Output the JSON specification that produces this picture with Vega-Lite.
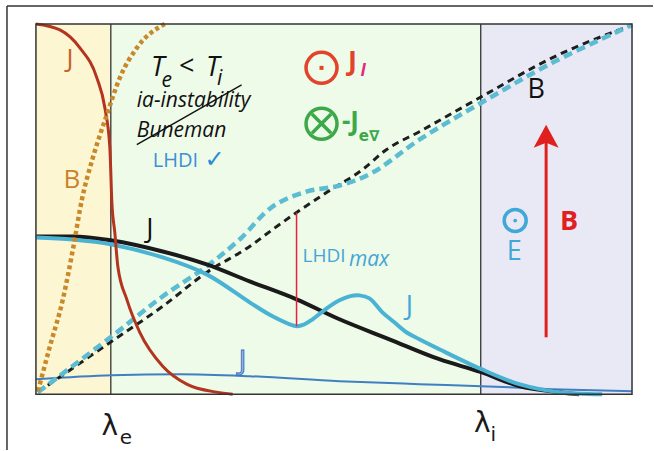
{
  "$schema": "https://vega.github.io/schema/vega-lite/v6.json",
  "width": 654,
  "height": 451,
  "autosize": {"type": "fit", "contains": "padding"},
  "padding": 0,
  "background": "white",
  "config": {"view": {"stroke": null}},
  "encoding": {
    "x": {"field": "x", "type": "quantitative", "scale": {"domain": [-6.03, 103.52], "nice": false, "zero": false}, "axis": null},
    "y": {"field": "y", "type": "quantitative", "scale": {"domain": [-15.09, 106.47], "nice": false, "zero": false}, "axis": null}
  },
  "layer": [
    {
      "data": {"values": [
        {"x": 0, "x2": 12.56, "y": 0, "y2": 100, "r": "electron"},
        {"x": 12.56, "x2": 74.62, "y": 0, "y2": 100, "r": "middle"},
        {"x": 74.62, "x2": 100, "y": 0, "y2": 100, "r": "ion"}
      ]},
      "mark": {"type": "rect", "opacity": 1},
      "encoding": {
        "x2": {"field": "x2"},
        "y2": {"field": "y2"},
        "color": {"field": "r", "type": "nominal", "legend": null, "scale": {"domain": ["electron", "middle", "ion"], "range": ["#fdf6d2", "#eefbe9", "#e9e9f6"]}}
      }
    },
    {
      "data": {"values": [
        {"x": 12.56, "x2": 12.56, "y": 0, "y2": 100},
        {"x": 74.62, "x2": 74.62, "y": 0, "y2": 100}
      ]},
      "mark": {"type": "rule", "color": "#333333", "strokeWidth": 1.3},
      "encoding": {"x2": {"field": "x2"}, "y2": {"field": "y2"}}
    },
    {
      "data": {"values": [
        {"x": 0, "y": 4.04}, {"x": 12.73, "y": 5.12}, {"x": 24.12, "y": 5.39}, {"x": 35.85, "y": 4.85},
        {"x": 50.92, "y": 3.5}, {"x": 64.32, "y": 2.7}, {"x": 74.71, "y": 2.16}, {"x": 86.6, "y": 1.35}, {"x": 100, "y": 0.81}
      ]},
      "mark": {"type": "line", "color": "#3f7fc2", "strokeWidth": 2, "interpolate": "monotone"}
    },
    {
      "data": {"values": [
        {"x": 0.34, "y": 0.54}, {"x": 12.73, "y": 14.29}, {"x": 21.27, "y": 23.72}, {"x": 28.64, "y": 32.88},
        {"x": 35.85, "y": 39.89}, {"x": 39.7, "y": 44.47}, {"x": 43.72, "y": 49.06}, {"x": 48.74, "y": 54.45},
        {"x": 54.77, "y": 60.65}, {"x": 58.79, "y": 66.04}, {"x": 64.32, "y": 70.89}, {"x": 74.71, "y": 80.32},
        {"x": 86.6, "y": 90.84}, {"x": 100, "y": 99.73}
      ]},
      "mark": {"type": "line", "color": "#1e1e1e", "strokeWidth": 3, "strokeDash": [7, 5], "interpolate": "monotone"}
    },
    {
      "data": {"values": [
        {"x": 0.34, "y": 0.54}, {"x": 12.73, "y": 15.63}, {"x": 21.27, "y": 26.42}, {"x": 28.64, "y": 34.5},
        {"x": 34.17, "y": 41.78}, {"x": 39.7, "y": 50.67}, {"x": 45.39, "y": 54.72}, {"x": 50.92, "y": 56.33},
        {"x": 56.45, "y": 59.84}, {"x": 64.32, "y": 68.73}, {"x": 74.71, "y": 78.71}, {"x": 86.6, "y": 89.49},
        {"x": 100, "y": 99.73}
      ]},
      "mark": {"type": "line", "color": "#5bbcd2", "strokeWidth": 4.5, "strokeDash": [9, 5], "interpolate": "catmull-rom"}
    },
    {
      "data": {"values": [
        {"x": 0, "y": 42.59}, {"x": 6.2, "y": 42.59}, {"x": 12.73, "y": 41.51}, {"x": 21.27, "y": 38.54},
        {"x": 28.64, "y": 35.04}, {"x": 35.85, "y": 30.46}, {"x": 43.72, "y": 25.61}, {"x": 50.92, "y": 20.22},
        {"x": 59.3, "y": 14.82}, {"x": 67.67, "y": 9.43}, {"x": 74.71, "y": 5.93}, {"x": 81.07, "y": 2.16},
        {"x": 87.77, "y": 0.54}, {"x": 91.12, "y": 0}
      ]},
      "mark": {"type": "line", "color": "#1a1a1a", "strokeWidth": 4, "interpolate": "monotone"}
    },
    {
      "data": {"values": [
        {"x": 0, "y": 42.32}, {"x": 6.2, "y": 41.78}, {"x": 12.73, "y": 40.43}, {"x": 21.27, "y": 36.93},
        {"x": 28.64, "y": 32.35}, {"x": 35.85, "y": 24.8}, {"x": 39.7, "y": 21.02}, {"x": 43.72, "y": 18.33},
        {"x": 45.06, "y": 18.87}, {"x": 46.4, "y": 20.22}, {"x": 47.91, "y": 22.1}, {"x": 49.25, "y": 23.72},
        {"x": 50.92, "y": 25.34}, {"x": 52.6, "y": 26.42}, {"x": 54.27, "y": 26.68}, {"x": 55.95, "y": 25.88},
        {"x": 58.12, "y": 22.1}, {"x": 60.13, "y": 19.41}, {"x": 62.14, "y": 16.71}, {"x": 64.32, "y": 14.82},
        {"x": 67.67, "y": 12.13}, {"x": 74.71, "y": 6.74}, {"x": 81.07, "y": 2.7}, {"x": 87.77, "y": 0.54}, {"x": 95, "y": 0}
      ]},
      "mark": {"type": "line", "color": "#4ab3d3", "strokeWidth": 4, "interpolate": "catmull-rom"}
    },
    {
      "data": {"values": [
        {"x": 0, "y": 100}, {"x": 4.02, "y": 98.38}, {"x": 7.37, "y": 93.53}, {"x": 10.22, "y": 85.44},
        {"x": 11.56, "y": 77.36}, {"x": 12.4, "y": 66.58}, {"x": 12.73, "y": 52.02}, {"x": 13.23, "y": 43.67},
        {"x": 13.74, "y": 34.5}, {"x": 15.24, "y": 25.61}, {"x": 17.42, "y": 16.71}, {"x": 21.27, "y": 7.55},
        {"x": 25.29, "y": 2.7}, {"x": 30.32, "y": 0.54}, {"x": 33, "y": 0}
      ]},
      "mark": {"type": "line", "color": "#b3341f", "strokeWidth": 3, "interpolate": "monotone"}
    },
    {
      "data": {"values": [
        {"x": 0.34, "y": 0.81}, {"x": 2.35, "y": 12.94}, {"x": 4.52, "y": 25.61}, {"x": 6.2, "y": 39.08},
        {"x": 7.71, "y": 52.56}, {"x": 9.55, "y": 63.88}, {"x": 11.89, "y": 75.47}, {"x": 14.07, "y": 85.44},
        {"x": 16.92, "y": 93.53}, {"x": 21.61, "y": 100}
      ]},
      "mark": {"type": "line", "color": "#c8882c", "strokeWidth": 4.5, "strokeDash": [4, 3], "interpolate": "monotone"}
    },
    {
      "data": {"values": [
        {"x": 43.72, "x2": 43.72, "y": 18.33, "y2": 49.06}
      ]},
      "mark": {"type": "rule", "color": "#e8203c", "strokeWidth": 1.5},
      "encoding": {"x2": {"field": "x2"}, "y2": {"field": "y2"}}
    },
    {
      "data": {"values": [
        {"x": 85.59, "x2": 85.59, "y": 15.36, "y2": 68.5}
      ]},
      "mark": {"type": "rule", "color": "#e0201e", "strokeWidth": 3},
      "encoding": {"x2": {"field": "x2"}, "y2": {"field": "y2"}}
    },
    {
      "data": {"values": [{"x": 85.59, "y": 69.54}]},
      "mark": {"type": "point", "shape": "M0,-0.96L1,0.88L0,0.48L-1,0.88Z", "size": 625, "filled": true, "color": "#e0201e", "opacity": 1}
    },
    {
      "data": {"values": [
        {"x": 0, "x2": 100, "y": 0, "y2": 100}
      ]},
      "mark": {"type": "rect", "filled": false, "stroke": "#333333", "strokeWidth": 1.5},
      "encoding": {"x2": {"field": "x2"}, "y2": {"field": "y2"}}
    },
    {
      "data": {"values": [
        {"x": -4.86, "x2": -4.86, "y": -15.09, "y2": 104.85},
        {"x": -4.86, "x2": 103.52, "y": 104.85, "y2": 104.85}
      ]},
      "mark": {"type": "rule", "color": "#333333", "strokeWidth": 1.5},
      "encoding": {"x2": {"field": "x2"}, "y2": {"field": "y2"}}
    },
    {
      "data": {"values": [
        {"x": 16.92, "x2": 34.5, "y": 67.39, "y2": 83.56}
      ]},
      "mark": {"type": "rule", "color": "#111111", "strokeWidth": 1.4},
      "encoding": {"x2": {"field": "x2"}, "y2": {"field": "y2"}}
    },
    {
      "data": {"values": [{"x": 47.91, "y": 88.14}]},
      "mark": {"type": "point", "shape": "circle", "size": 961, "strokeWidth": 3.5, "filled": false, "color": "#e2432a", "opacity": 1}
    },
    {
      "data": {"values": [{"x": 47.91, "y": 73.05}]},
      "mark": {"type": "point", "shape": "circle", "size": 961, "strokeWidth": 3.5, "filled": false, "color": "#3ca84a", "opacity": 1}
    },
    {
      "data": {"values": [{"x": 47.91, "y": 88.14}]},
      "mark": {"type": "point", "shape": "square", "size": 16, "filled": true, "color": "#e2432a", "opacity": 1}
    },
    {
      "data": {"values": [{"x": 47.91, "y": 73.05}]},
      "mark": {"type": "point", "shape": "M-0.62,-0.62L0.62,0.62M0.62,-0.62L-0.62,0.62", "size": 961, "strokeWidth": 3.5, "filled": false, "color": "#3ca84a", "opacity": 1}
    },
    {
      "data": {"values": [{"x": 80.4, "y": 46.9}]},
      "mark": {"type": "point", "shape": "circle", "size": 484, "strokeWidth": 3.5, "filled": false, "color": "#3fa8d8", "opacity": 1}
    },
    {
      "data": {"values": [{"x": 80.4, "y": 46.9}]},
      "mark": {"type": "point", "shape": "circle", "size": 14, "filled": true, "color": "#3fa8d8", "opacity": 1}
    },
    {
      "data": {"values": [
        {"x": 5.7, "y": 90.57, "t": "J"}
      ]},
      "mark": {"type": "text", "font": "Open Sans", "fontSize": 26, "color": "#c0652c", "baseline": "middle", "align": "center"},
      "encoding": {"text": {"field": "t"}}
    },
    {
      "data": {"values": [
        {"x": 6.03, "y": 57.95, "t": "B"}
      ]},
      "mark": {"type": "text", "font": "Open Sans", "fontSize": 26, "color": "#c8842c", "baseline": "middle", "align": "center"},
      "encoding": {"text": {"field": "t"}}
    },
    {
      "data": {"values": [
        {"x": 20.44, "y": 88.14, "t": "T"},
        {"x": 29.65, "y": 88.14, "t": "T"}
      ]},
      "mark": {"type": "text", "font": "Open Sans", "fontStyle": "italic", "fontSize": 27, "color": "#111111", "baseline": "middle", "align": "center"},
      "encoding": {"text": {"field": "t"}}
    },
    {
      "data": {"values": [
        {"x": 25.3, "y": 88.4, "t": "<"}
      ]},
      "mark": {"type": "text", "font": "Open Sans", "fontSize": 27, "color": "#111111", "baseline": "middle", "align": "center"},
      "encoding": {"text": {"field": "t"}}
    },
    {
      "data": {"values": [
        {"x": 21.94, "y": 84.6, "t": "e"},
        {"x": 30.82, "y": 85.2, "t": "i"}
      ]},
      "mark": {"type": "text", "font": "Open Sans", "fontStyle": "italic", "fontSize": 21, "color": "#111111", "baseline": "middle", "align": "center"},
      "encoding": {"text": {"field": "t"}}
    },
    {
      "data": {"values": [
        {"x": 16.92, "y": 77.63, "t": "ia-instability"},
        {"x": 16.92, "y": 69.54, "t": "Buneman"}
      ]},
      "mark": {"type": "text", "font": "Open Sans", "fontStyle": "italic", "fontSize": 21, "color": "#111111", "baseline": "alphabetic", "align": "left"},
      "encoding": {"text": {"field": "t"}}
    },
    {
      "data": {"values": [
        {"x": 19.6, "y": 61.46, "t": "LHDI"}
      ]},
      "mark": {"type": "text", "font": "Open Sans", "fontSize": 20, "color": "#3d8fd6", "baseline": "alphabetic", "align": "left"},
      "encoding": {"text": {"field": "t"}}
    },
    {
      "data": {"values": [
        {"x": 29.98, "y": 63.34, "t": "✓"}
      ]},
      "mark": {"type": "text", "font": "DejaVu Sans", "fontSize": 24, "color": "#2a8ad8", "baseline": "middle", "align": "center"},
      "encoding": {"text": {"field": "t"}}
    },
    {
      "data": {"values": [
        {"x": 53.1, "y": 89.76, "t": "J"}
      ]},
      "mark": {"type": "text", "font": "Open Sans", "fontWeight": "bold", "fontSize": 27, "color": "#e2432a", "baseline": "middle", "align": "center"},
      "encoding": {"text": {"field": "t"}}
    },
    {
      "data": {"values": [
        {"x": 54.9, "y": 87.33, "t": "I"}
      ]},
      "mark": {"type": "text", "font": "Open Sans", "fontStyle": "italic", "fontWeight": "bold", "fontSize": 17, "color": "#e02a80", "baseline": "middle", "align": "center"},
      "encoding": {"text": {"field": "t"}}
    },
    {
      "data": {"values": [
        {"x": 52.76, "y": 73.6, "t": "-J"}
      ]},
      "mark": {"type": "text", "font": "Open Sans", "fontWeight": "bold", "fontSize": 26, "color": "#3ca84a", "baseline": "middle", "align": "center"},
      "encoding": {"text": {"field": "t"}}
    },
    {
      "data": {"values": [
        {"x": 55.9, "y": 69.81, "t": "e∇"}
      ]},
      "mark": {"type": "text", "font": "DejaVu Sans", "fontWeight": "bold", "fontSize": 15, "color": "#3ca84a", "baseline": "middle", "align": "center"},
      "encoding": {"text": {"field": "t"}}
    },
    {
      "data": {"values": [
        {"x": 83.92, "y": 82.21, "t": "B"},
        {"x": 19.1, "y": 44.47, "t": "J"}
      ]},
      "mark": {"type": "text", "font": "Open Sans", "fontSize": 27, "color": "#111111", "baseline": "middle", "align": "center"},
      "encoding": {"text": {"field": "t"}}
    },
    {
      "data": {"values": [
        {"x": 44.72, "y": 35.58, "t": "LHDI"}
      ]},
      "mark": {"type": "text", "font": "Open Sans", "fontSize": 19, "color": "#45a5d5", "baseline": "alphabetic", "align": "left"},
      "encoding": {"text": {"field": "t"}}
    },
    {
      "data": {"values": [
        {"x": 52.5, "y": 34.5, "t": "max"}
      ]},
      "mark": {"type": "text", "font": "Open Sans", "fontStyle": "italic", "fontSize": 21, "color": "#45a5d5", "baseline": "alphabetic", "align": "left"},
      "encoding": {"text": {"field": "t"}}
    },
    {
      "data": {"values": [
        {"x": 62.65, "y": 23.45, "t": "J"},
        {"x": 80.23, "y": 38.27, "t": "E"}
      ]},
      "mark": {"type": "text", "font": "Open Sans", "fontSize": 27, "color": "#42a7d6", "baseline": "middle", "align": "center"},
      "encoding": {"text": {"field": "t"}}
    },
    {
      "data": {"values": [
        {"x": 34.67, "y": 8.63, "t": "J"}
      ]},
      "mark": {"type": "text", "font": "Open Sans", "fontSize": 28, "fill": "#9cc0ee", "stroke": "#3a70c0", "strokeWidth": 1, "baseline": "middle", "align": "center"},
      "encoding": {"text": {"field": "t"}}
    },
    {
      "data": {"values": [
        {"x": 89.45, "y": 46.63, "t": "B"}
      ]},
      "mark": {"type": "text", "font": "Open Sans", "fontWeight": "bold", "fontSize": 27, "color": "#e0201e", "baseline": "middle", "align": "center"},
      "encoding": {"text": {"field": "t"}}
    },
    {
      "data": {"values": [
        {"x": 12.4, "y": -8.89, "t": "λ"},
        {"x": 74.87, "y": -8.09, "t": "λ"}
      ]},
      "mark": {"type": "text", "font": "DejaVu Sans", "fontSize": 28, "color": "#1a1a1a", "baseline": "middle", "align": "center"},
      "encoding": {"text": {"field": "t"}}
    },
    {
      "data": {"values": [
        {"x": 15.08, "y": -11.86, "t": "e"},
        {"x": 76.72, "y": -11.05, "t": "i"}
      ]},
      "mark": {"type": "text", "font": "DejaVu Sans", "fontSize": 20, "color": "#1a1a1a", "baseline": "middle", "align": "center"},
      "encoding": {"text": {"field": "t"}}
    }
  ]
}
